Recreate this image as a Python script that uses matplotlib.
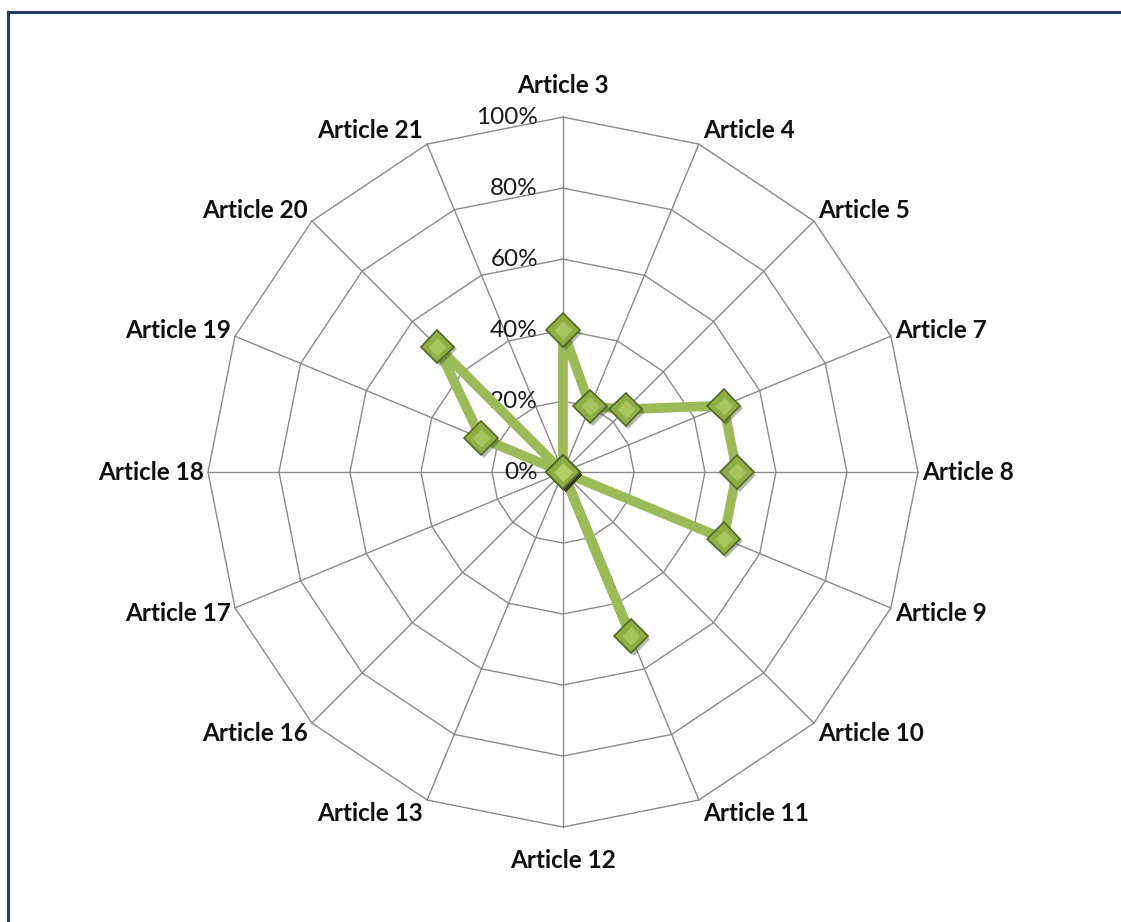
import numpy as np
import matplotlib.pyplot as plt
from matplotlib.lines import Line2D
import matplotlib.patheffects as pe

# categories going clockwise from the top
articles = ['Article 3', 'Article 4', 'Article 5', 'Article 7', 'Article 8',
            'Article 9', 'Article 10', 'Article 11', 'Article 12', 'Article 13',
            'Article 16', 'Article 17', 'Article 18', 'Article 19', 'Article 20',
            'Article 21']
scores = [0.40, 0.20, 0.25, 0.49, 0.49, 0.49, 0.0, 0.50, 0.0, 0.0,
          0.0, 0.0, 0.0, 0.25, 0.50, 0.0]
levels = [0.2, 0.4, 0.6, 0.8, 1.0]
level_labels = ['0%', '20%', '40%', '60%', '80%', '100%']

label_font = 'Lato'
line_green = '#9bbb59'
grid_grey = '#8a8a8a'

n = len(articles)
angles = np.linspace(0, 2 * np.pi, n, endpoint=False)
closed = np.append(angles, angles[0])

fig = plt.figure(figsize=(11.21, 9.22), dpi=100)
ax = fig.add_axes([0.1855, 0.1030, 0.6334, 0.7700], projection='polar')
ax.set_theta_zero_location('N')
ax.set_theta_direction(-1)
ax.set_ylim(0, 1)
ax.grid(False)
ax.spines['polar'].set_visible(False)
ax.set_xticks([])
ax.set_yticks([])
ax.patch.set_alpha(0)

# spider web: polygon rings and spokes
for lv in levels:
    ax.plot(closed, [lv] * (n + 1), color=grid_grey, lw=1.0, clip_on=False, zorder=1)
for a in angles:
    ax.plot([a, a], [0, 1], color=grid_grey, lw=1.0, clip_on=False, zorder=1)

# radial tick labels along the vertical spoke
for lv, txt in zip([0.0] + levels, level_labels):
    ax.annotate(txt, xy=(0, lv), xytext=(-25, 0), textcoords='offset pixels',
                ha='right', va='center', fontsize=17.5, family=label_font,
                color='#1a1a1a', zorder=3)

# category labels around the outside
for a, name in zip(angles, articles):
    s, c = np.sin(a), np.cos(a)
    if abs(s) < 1e-6:
        ha = 'center'
        va = 'bottom' if c > 0 else 'top'
        off = (0, 20 if c > 0 else -22)
    else:
        ha = 'left' if s > 0 else 'right'
        va = 'center'
        off = (4 * np.sign(s), 15 * c)
    ax.annotate(name, xy=(a, 1.0), xytext=off, textcoords='offset pixels',
                ha=ha, va=va, fontsize=17.5, fontweight='bold', family=label_font,
                color='#111111', zorder=3)

# data series
vals = np.append(scores, scores[0])
ax.plot(closed, vals, color=line_green, lw=7, solid_joinstyle='round',
        clip_on=False, zorder=4)
ax.plot(angles, scores, linestyle='none', marker='D', markersize=17,
        markerfacecolor='#8cae42', markeredgecolor='#4f6826', markeredgewidth=1.2,
        clip_on=False, zorder=5,
        path_effects=[pe.SimplePatchShadow(offset=(2, -2), alpha=0.35), pe.Normal()])
# lighter top highlight on each marker
ax.plot(angles, scores, linestyle='none', marker='D', markersize=9,
        markerfacecolor='#b3cf6c', markeredgecolor='none', alpha=0.7,
        clip_on=False, zorder=6)

# outer frame (top and left edges)
frame = '#213d63'
fig.add_artist(Line2D([0.0071, 1.0], [0.987, 0.987], transform=fig.transFigure,
                      color=frame, lw=2.2))
fig.add_artist(Line2D([0.0071, 0.0071], [0.0, 0.987], transform=fig.transFigure,
                      color=frame, lw=2.2))

fig.savefig('out.png', dpi=100)
